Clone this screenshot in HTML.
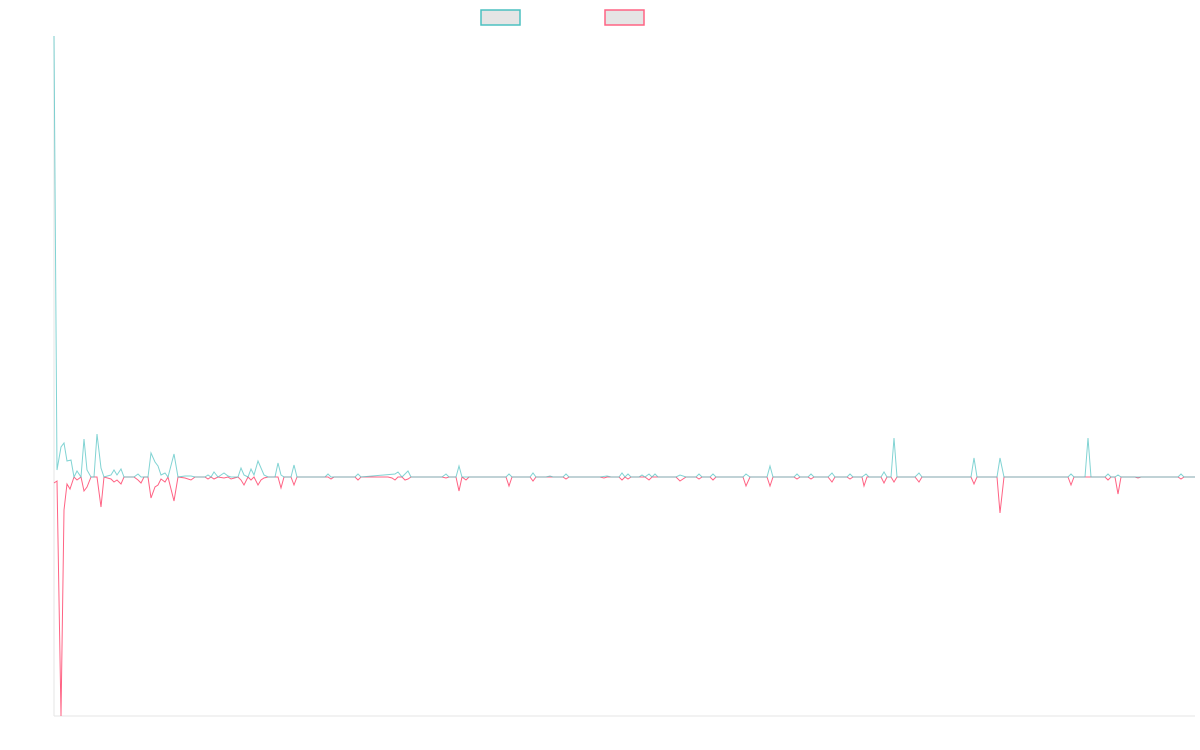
<!DOCTYPE html>
<html><head><meta charset="utf-8"><style>html,body{margin:0;padding:0;background:#fff;width:1200px;height:750px;overflow:hidden}</style></head>
<body>
<svg width="1200" height="750" xmlns="http://www.w3.org/2000/svg">
<rect x="481" y="10" width="39" height="15" fill="#e5e5e5" stroke="#4bc0c0" stroke-width="1.5"/>
<rect x="605" y="10" width="39" height="15" fill="#e5e5e5" stroke="#ff6384" stroke-width="1.5"/>
<line x1="54" y1="36" x2="54" y2="716" stroke="#e5e5e5"/>
<line x1="54" y1="716" x2="1195" y2="716" stroke="#e5e5e5"/>
<polyline fill="none" stroke="#ff6384" stroke-width="1" points="54,483 57,481 61,716 64,510 67,484 70,489 74,477 77,480 81,477 84,491 87,487 91,477 97,477 101,507 104,477 111,479 114,482 117,480 121,484 124,477 134,477 138,480 141,483 144,477 148,477 151,498 155,487 158,485 161,479 165,482 168,477 174,501 178,477 185,478 191,480 195,477 205,477 208,479 211,477 214,479 218,477 224,478 228,477 231,479 238,477 241,480 244,485 248,477 251,480 254,477 258,485 261,480 264,478 268,477 278,477 281,488 284,477 291,477 294,485 297,477 328,477 331,479 334,477 355,477 358,480 361,477 388,477 392,478 395,480 398,477 402,477 405,480 408,479 411,477 442,477 446,478 449,477 456,477 459,491 462,477 466,480 469,477 506,477 509,486 512,477 530,477 533,481 536,477 563,477 566,479 569,477 600,477 604,478 607,477 619,477 622,480 625,477 628,479 631,477 645,477 649,480 652,477 676,477 680,481 686,477 696,477 699,479 702,477 710,477 713,480 716,477 743,477 746,486 750,477 767,477 770,486 773,477 794,477 797,479 800,477 808,477 811,479 814,477 828,477 832,482 835,477 847,477 850,479 853,477 862,477 864,486 867,477 881,477 884,483 887,477 891,477 894,482 897,477 915,477 919,482 922,477 971,477 974,484 977,477 997,477 1000,513 1004,477 1068,477 1071,485 1074,477 1105,477 1108,480 1111,477 1115,477 1118,494 1121,477 1135,477 1138,478 1141,477 1178,477 1181,479 1184,477 1195,477"/>
<polyline fill="none" stroke="#4bc0c0" stroke-opacity="0.7" stroke-width="1" points="54,36 57,470 61,447 64,443 67,461 71,460 74,477 77,471 81,477 84,439 87,470 91,477 94,477 97,434 101,468 104,477 111,475 114,470 117,475 121,469 124,477 134,477 138,474 141,477 148,477 151,453 155,462 158,466 161,475 165,473 168,477 174,454 178,477 185,476 191,476 195,477 205,477 208,475 211,477 214,472 218,477 224,473 228,476 231,477 238,477 241,468 244,475 248,477 251,469 254,475 258,461 264,475 268,477 275,477 278,463 281,475 284,477 291,477 294,465 297,477 325,477 328,474 331,477 355,477 358,474 361,477 395,474 398,472 402,477 405,474 408,471 411,477 442,477 446,474 449,477 456,477 459,466 462,477 506,477 509,474 512,477 530,477 533,473 536,477 546,477 550,476 553,477 563,477 566,474 569,477 600,477 607,476 611,477 619,477 622,473 625,477 628,474 631,477 639,477 642,475 645,477 649,474 652,477 655,474 658,477 676,477 680,475 686,477 696,477 699,474 702,477 710,477 713,474 716,477 743,477 746,474 750,477 767,477 770,466 773,477 794,477 797,474 800,477 808,477 811,474 814,477 828,477 832,473 835,477 847,477 850,474 853,477 862,477 866,474 869,477 881,477 884,472 887,477 891,477 894,438 897,477 915,477 919,473 922,477 971,477 974,458 977,477 997,477 1000,458 1004,477 1068,477 1071,474 1074,477 1085,477 1088,438 1091,477 1105,477 1108,474 1111,477 1115,477 1118,475 1121,477 1178,477 1181,474 1184,477 1195,477"/>
</svg>
</body></html>
